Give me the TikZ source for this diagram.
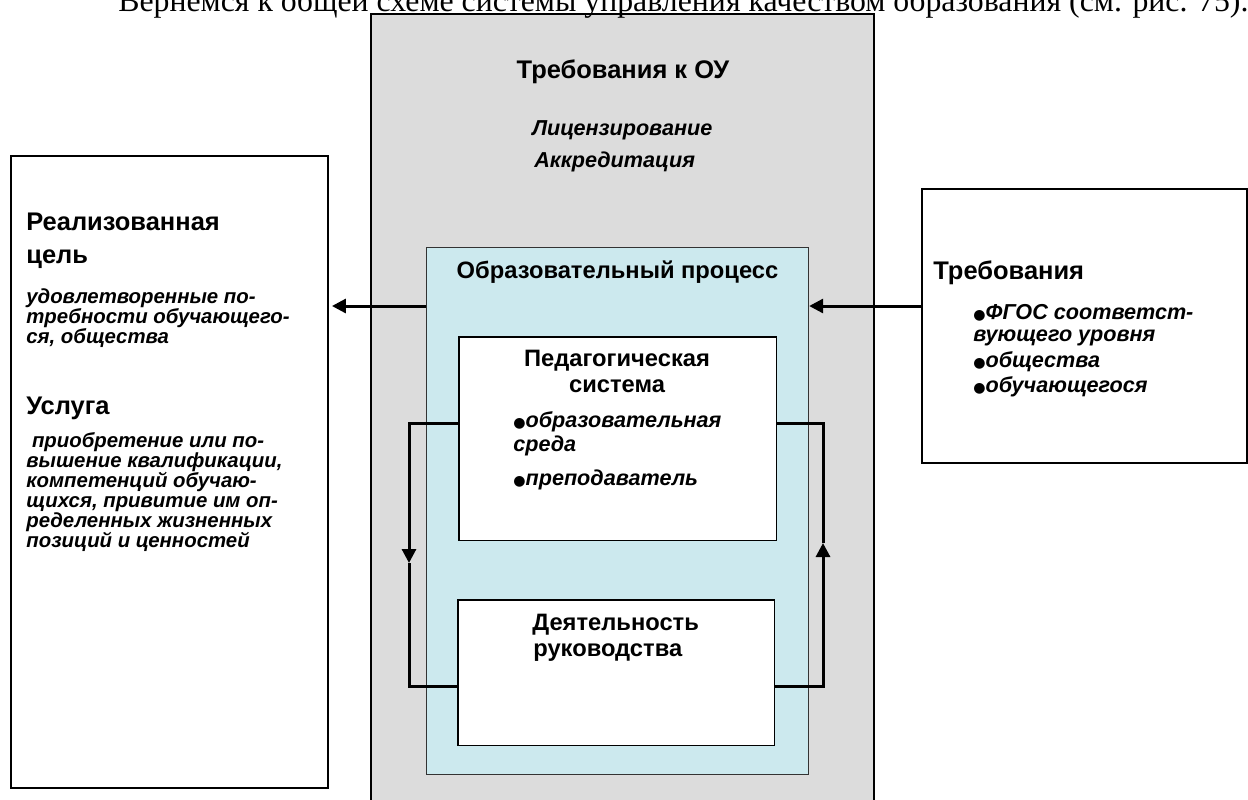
\documentclass[tikz,border=0pt]{standalone}
\usepackage{fontspec}
\setmainfont{Liberation Sans}
\newfontfamily\bodyserif{Liberation Serif}
\newfontfamily\dotfont{DejaVu Sans}
\usetikzlibrary{arrows.meta}

\definecolor{ougray}{HTML}{DCDCDC}
\definecolor{procblue}{HTML}{CCE9EE}

% heading and item fonts
\newcommand\dhead{\fontsize{13.5pt}{16pt}\selectfont\bfseries}
\newcommand\dheadbig{\fontsize{14.5pt}{17pt}\selectfont\bfseries}
\newcommand\ditem{\fontsize{12.3pt}{14pt}\selectfont\bfseries\itshape}
\newcommand\ditemsmall{\fontsize{11.6pt}{13pt}\selectfont\bfseries\itshape}
\newcommand\dbul{{\dotfont\fontsize{8pt}{8pt}\selectfont ●}}

\tikzset{
  panel/.style={draw=black, line width=0.04cm, fill=white, inner sep=0, anchor=north west},
  oubox/.style={draw=black, line width=0.035cm, fill=ougray, inner sep=0, anchor=north west},
  procbox/.style={draw=black!80, line width=0.025cm, fill=procblue, inner sep=0, anchor=north west},
  inbox/.style={draw=black, line width=0.03cm, fill=white, inner sep=0, anchor=north west},
  headtxt/.style={inner sep=0, font=\dhead},
  bigtxt/.style={inner sep=0, anchor=base west, font=\dheadbig},
  itemtxt/.style={inner sep=0, anchor=base west, font=\ditem},
  smalltxt/.style={inner sep=0, anchor=base west, font=\ditemsmall},
  flow/.style={line width=0.06cm, line join=miter},
  tip/.style={-{Triangle[length=0.28cm,width=0.28cm]}}
}

\begin{document}
\begin{tikzpicture}[x=0.02cm,y=-0.02cm]
\useasboundingbox (0,0) rectangle (1248,799);

% requirements to the institution (grey frame, runs past the bottom)
\node[oubox, minimum width=10.06cm, minimum height=16.4cm] (ou) at (370,13) {};
% educational process
\node[procbox, minimum width=7.64cm, minimum height=10.54cm] (proc) at (426,247) {};
% pedagogical system and management
\node[inbox, minimum width=6.36cm, minimum height=4.08cm] (ped) at (458,336) {};
\node[inbox, minimum width=6.34cm, minimum height=2.92cm] (ruk) at (457,599) {};
% side panels
\node[panel, minimum width=6.34cm, minimum height=12.64cm] (goal) at (10,155) {};
\node[panel, minimum width=6.5cm, minimum height=5.48cm] (req) at (921,188) {};

% texts of the grey frame
\node[bigtxt, anchor=base] (outitle) at (623,78) {Требования к ОУ};
\node[itemtxt] (lic) at (532,135) {Лицензирование};
\node[itemtxt] (akk) at (534,167) {Аккредитация};

% texts of the process box
\node[headtxt, anchor=base] (proctitle) at (617.5,278) {Образовательный процесс};
\node[headtxt, anchor=base] (pedt1) at (617,366) {Педагогическая};
\node[headtxt, anchor=base] (pedt2) at (617,392) {система};
\node[itemtxt] (pedi1) at (513,427) {\dbul образовательная};
\node[itemtxt] (pedi2) at (513,451) {среда};
\node[itemtxt] (pedi3) at (513,485) {\dbul преподаватель};
\node[headtxt, anchor=base west] (rukt1) at (532,630) {Деятельность};
\node[headtxt, anchor=base west] (rukt2) at (533,656) {руководства};

% left panel
\node[bigtxt] (g1) at (26,230) {Реализованная};
\node[bigtxt] (g2) at (26,263) {цель};
\foreach \t [count=\i] in {удовлетворенные по-, требности обучающего-, {ся, общества}}
  \node[smalltxt] (ga\i) at (26,{303+20*(\i-1)}) {\t};
\node[bigtxt] (g3) at (26,414) {Услуга};
\foreach \t [count=\i] in {{\ приобретение или по-}, {вышение квалификации,}, компетенций обучаю-, {щихся, привитие им оп-}, ределенных жизненных, позиций и ценностей}
  \node[smalltxt] (gb\i) at (26,{447+20*(\i-1)}) {\t};

% right panel
\node[bigtxt] (r0) at (933,279) {Требования};
\node[itemtxt] (r1) at (973,319) {\dbul ФГОС соответст-};
\node[itemtxt] (r2) at (973,341) {вующего уровня};
\node[itemtxt] (r3) at (973,367) {\dbul общества};
\node[itemtxt] (r4) at (973,392) {\dbul обучающегося};

% connectors
\coordinate (row) at (0,306);
\draw[flow, tip] (proc.west |- row) -- ([xshift=0.06cm]goal.east |- row);
\draw[flow, tip] (req.west |- row) -- (proc.east |- row);

\coordinate (fbtop) at (0,423);
\coordinate (fbbot) at (0,686);
\coordinate (fl) at (409,563);
\coordinate (fr) at (823,543);
\draw[flow, tip] (ped.west |- fbtop) -| (fl);
\draw[flow] (fl) |- (ruk.west |- fbbot);
\draw[flow, tip] (ruk.east |- fbbot) -| (fr);
\draw[flow] (fr) |- (ped.east |- fbtop);

% running text above the figure
\node[inner sep=0, anchor=base west, font=\bodyserif\fontsize{18.1pt}{20pt}\selectfont] (intro) at (118,11)
  {Вернемся к общей схеме системы управления качеством образования (см. рис. 75).};
\end{tikzpicture}
\end{document}
